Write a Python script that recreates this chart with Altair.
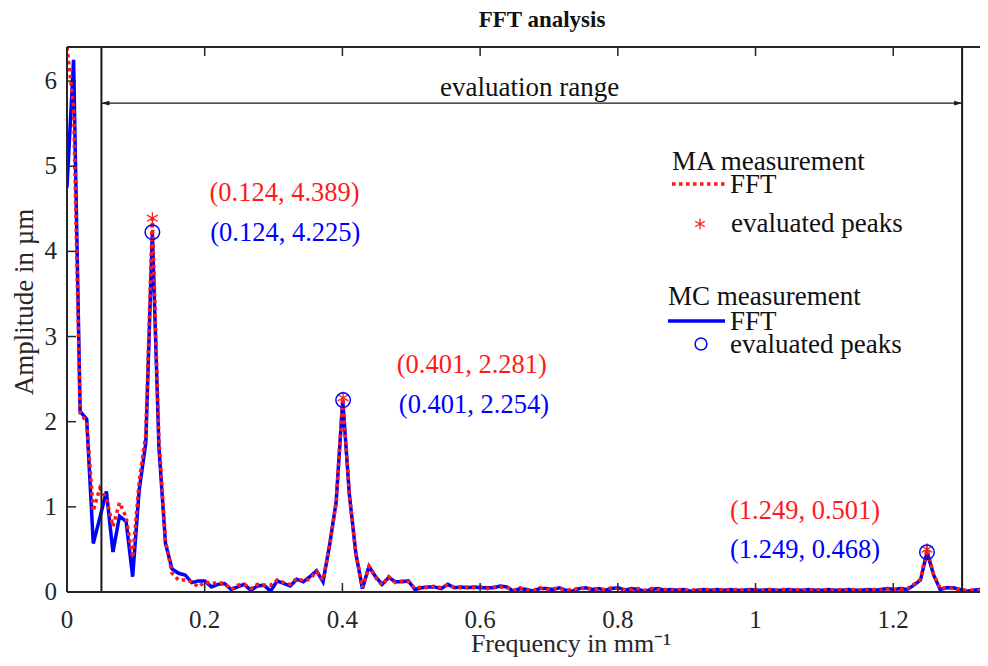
import altair as alt
import pandas as pd

# ---------------- data ----------------
DF = 0.009535  # FFT bin spacing in mm^-1

mc_amp = [4.75, 6.25, 2.12, 2.03, 0.57, 0.87, 1.18, 0.47, 0.89, 0.83,
          0.18, 1.20, 1.75, 4.225, 1.70, 0.57, 0.27, 0.22, 0.20, 0.11,
          0.13, 0.13, 0.06, 0.09, 0.10, 0.03, 0.06, 0.09, 0.02, 0.07,
          0.08, 0.01, 0.13, 0.10, 0.07, 0.15, 0.12, 0.18, 0.25, 0.12,
          0.55, 1.06, 2.254, 1.15, 0.45, 0.04, 0.30, 0.18, 0.09, 0.17,
          0.12, 0.12, 0.13, 0.03, 0.05, 0.06, 0.06, 0.04, 0.09, 0.05,
          0.06, 0.05, 0.06, 0.05, 0.05, 0.05, 0.07, 0.06, 0.01, 0.04,
          0.03, 0.01, 0.04, 0.04, 0.03, 0.05, 0.02, 0.01, 0.04, 0.05,
          0.03, 0.04, 0.02, 0.04, 0.05, 0.02, 0.04, 0.03, 0.01, 0.03,
          0.04, 0.02, 0.03, 0.02, 0.03, 0.01, 0.02, 0.03, 0.02, 0.03,
          0.02, 0.03, 0.02, 0.02, 0.03, 0.02, 0.02, 0.03, 0.02, 0.02,
          0.03, 0.02, 0.02, 0.03, 0.02, 0.02, 0.03, 0.02, 0.02, 0.03,
          0.02, 0.02, 0.03, 0.02, 0.03, 0.04, 0.03, 0.04, 0.03, 0.08,
          0.14, 0.468, 0.20, 0.03, 0.05, 0.05, 0.03, 0.01, 0.02, 0.03,
          0.02]

ma_amp = [6.60, 5.70, 2.10, 2.00, 0.95, 1.22, 1.10, 0.77, 1.05, 0.88,
          0.40, 1.30, 1.85, 4.389, 1.80, 0.60, 0.22, 0.14, 0.14, 0.12,
          0.06, 0.12, 0.10, 0.11, 0.10, 0.03, 0.08, 0.09, 0.04, 0.09,
          0.08, 0.08, 0.14, 0.11, 0.09, 0.16, 0.13, 0.15, 0.24, 0.14,
          0.55, 1.05, 2.281, 1.15, 0.45, 0.05, 0.30, 0.17, 0.08, 0.18,
          0.11, 0.13, 0.12, 0.04, 0.06, 0.05, 0.07, 0.05, 0.08, 0.06,
          0.05, 0.06, 0.05, 0.06, 0.04, 0.06, 0.06, 0.05, 0.02, 0.05,
          0.02, 0.02, 0.05, 0.03, 0.04, 0.04, 0.03, 0.02, 0.05, 0.04,
          0.04, 0.03, 0.03, 0.05, 0.04, 0.03, 0.03, 0.04, 0.02, 0.04,
          0.03, 0.03, 0.02, 0.03, 0.02, 0.02, 0.03, 0.02, 0.03, 0.02,
          0.03, 0.02, 0.03, 0.02, 0.02, 0.03, 0.02, 0.03, 0.02, 0.03,
          0.02, 0.03, 0.02, 0.02, 0.03, 0.02, 0.03, 0.02, 0.03, 0.02,
          0.03, 0.02, 0.02, 0.03, 0.02, 0.04, 0.03, 0.03, 0.04, 0.09,
          0.15, 0.501, 0.21, 0.04, 0.05, 0.04, 0.03, 0.02, 0.02, 0.02,
          0.03]

freq = [round(k * DF, 5) for k in range(len(mc_amp))]

peak_freq = [0.124, 0.401, 1.249]
ma_peak = [4.389, 2.281, 0.501]
mc_peak = [4.225, 2.254, 0.468]
ma_labels = ["(0.124, 4.389)", "(0.401, 2.281)", "(1.249, 0.501)"]
mc_labels = ["(0.124, 4.225)", "(0.401, 2.254)", "(1.249, 0.468)"]
ma_label_x = [0.316, 0.588, 1.072]
ma_label_y = [4.69, 2.66, 0.95]
mc_label_x = [0.317, 0.591, 1.072]
mc_label_y = [4.22, 2.20, 0.49]

eval_range = [0.05, 1.30]
eval_arrow_y = 5.74
eval_text_x = 0.672
eval_text_y = 5.92

x_ticks = [0, 0.2, 0.4, 0.6, 0.8, 1.0, 1.2]
x_tick_labels = ["0", "0.2", "0.4", "0.6", "0.8", "1", "1.2"]
y_ticks = [0, 1, 2, 3, 4, 5, 6]
y_tick_labels = ["0", "1", "2", "3", "4", "5", "6"]

title_text = "FFT analysis"
x_title = "Frequency in mm⁻¹"
y_title = "Amplitude in µm"

# ---------------- style ----------------
W, H = 913, 545
FONT = "Liberation Serif"
RED = "#FF1A1A"
BLUE = "#0000FF"
AX = "#262626"
TXT = "#111111"
LW = 3.5

xs = alt.Scale(domain=[0, 1.326], nice=False, zero=False)
ys = alt.Scale(domain=[0, 6.4], nice=False, clamp=True)

curves = pd.DataFrame({"freq": freq, "MC": mc_amp, "MA": ma_amp})
peaks = pd.DataFrame({"f": peak_freq, "ma": ma_peak, "mc": mc_peak,
                      "ma_lab": ma_labels, "mc_lab": mc_labels,
                      "ma_lx": ma_label_x, "ma_ly": ma_label_y,
                      "mc_lx": mc_label_x, "mc_ly": mc_label_y})
ev = pd.DataFrame({"x": eval_range})
ev_span = pd.DataFrame({"x": [eval_range[0]], "x2": [eval_range[1]], "y": [eval_arrow_y]})
ev_text = pd.DataFrame({"x": [eval_text_x], "y": [eval_text_y], "t": ["evaluation range"]})
xt = pd.DataFrame({"v": x_ticks, "lab": x_tick_labels})
yt = pd.DataFrame({"v": y_ticks, "lab": y_tick_labels})
one = alt.Data(values=[{}])

X = lambda f: alt.X(f, scale=xs, axis=None)
Y = lambda f: alt.Y(f, scale=ys, axis=None)

blue_line = alt.Chart(curves).mark_line(color=BLUE, strokeWidth=LW, clip=True).encode(
    x=X("freq:Q"), y=Y("MC:Q"))
red_line = alt.Chart(curves).mark_line(color=RED, strokeWidth=LW, strokeDash=[3.5, 3.5],
                                       clip=True).encode(x=X("freq:Q"), y=Y("MA:Q"))

ev_lines = alt.Chart(ev).mark_rule(color="#1a1a1a", strokeWidth=2).encode(x=X("x:Q"))
ev_arrow = alt.Chart(ev_span).mark_rule(color="#1a1a1a", strokeWidth=1.2).encode(
    x=X("x:Q"), x2="x2:Q", y=Y("y:Q"))
head_l = alt.Chart(ev_span).mark_point(shape="M 0 0 L 2 -0.6 L 2 0.6 Z", filled=True,
                                       color="#1a1a1a", size=64, opacity=1).encode(
    x=X("x:Q"), y=Y("y:Q"))
head_r = alt.Chart(ev_span).mark_point(shape="M 0 0 L -2 -0.6 L -2 0.6 Z", filled=True,
                                       color="#1a1a1a", size=64, opacity=1).encode(
    x=X("x2:Q"), y=Y("y:Q"))
ev_label = alt.Chart(ev_text).mark_text(font=FONT, fontSize=27, color=TXT,
                                        baseline="middle").encode(
    x=X("x:Q"), y=Y("y:Q"), text="t:N")

ASTER = "M 0 -1 L 0 1 M -0.87 -0.5 L 0.87 0.5 M -0.87 0.5 L 0.87 -0.5"
ma_pts = alt.Chart(peaks).mark_point(shape=ASTER, filled=False, color=RED, size=150,
                                     strokeWidth=1.3, opacity=1).encode(
    x=X("f:Q"), y=Y("ma:Q"))
mc_pts = alt.Chart(peaks).mark_point(shape="circle", filled=False, color=BLUE, size=210,
                                     strokeWidth=1.5, opacity=1).encode(
    x=X("f:Q"), y=Y("mc:Q"))
ma_txt = alt.Chart(peaks).mark_text(font=FONT, fontSize=26.5, color=RED,
                                    baseline="middle").encode(
    x=X("ma_lx:Q"), y=Y("ma_ly:Q"), text="ma_lab:N")
mc_txt = alt.Chart(peaks).mark_text(font=FONT, fontSize=26.5, color=BLUE,
                                    baseline="middle").encode(
    x=X("mc_lx:Q"), y=Y("mc_ly:Q"), text="mc_lab:N")

# ---------------- axes drawn MATLAB-style (inward ticks, box top) ----------------
dom_b = alt.Chart(one).mark_rule(color=AX, strokeWidth=2).encode(
    x=alt.value(0), x2=alt.value(W), y=alt.value(H))
dom_l = alt.Chart(one).mark_rule(color=AX, strokeWidth=2).encode(
    x=alt.value(0), y=alt.value(0), y2=alt.value(H))
dom_t = alt.Chart(one).mark_rule(color=AX, strokeWidth=2).encode(
    x=alt.value(0), x2=alt.value(W), y=alt.value(0))
tick_b = alt.Chart(xt).mark_rule(color=AX, strokeWidth=1.5).encode(
    x=X("v:Q"), y=alt.value(H), y2=alt.value(H - 9))
tick_t = alt.Chart(xt).mark_rule(color=AX, strokeWidth=1.5).encode(
    x=X("v:Q"), y=alt.value(0), y2=alt.value(9))
tick_l = alt.Chart(yt).mark_rule(color=AX, strokeWidth=1.5).encode(
    y=Y("v:Q"), x=alt.value(0), x2=alt.value(9))
lab_x = alt.Chart(xt).mark_text(font=FONT, fontSize=25, color=AX, baseline="middle").encode(
    x=X("v:Q"), y=alt.value(H + 28), text="lab:N")
lab_y = alt.Chart(yt).mark_text(font=FONT, fontSize=25, color=AX, baseline="middle",
                                align="right").encode(
    y=Y("v:Q"), x=alt.value(-10), text="lab:N")
ttl_x = alt.Chart(one).mark_text(font=FONT, fontSize=26, color=AX, baseline="middle").encode(
    x=alt.value(504), y=alt.value(H + 52), text=alt.value(x_title))
ttl_y = alt.Chart(one).mark_text(font=FONT, fontSize=27, color=AX, baseline="middle",
                                 angle=270).encode(
    x=alt.value(-42), y=alt.value(255), text=alt.value(y_title))
ttl = alt.Chart(one).mark_text(font=FONT, fontSize=23, fontWeight="bold", color=TXT,
                               baseline="middle").encode(
    x=alt.value(475), y=alt.value(-27), text=alt.value(title_text))

# ---------------- legend (grouped, MATLAB-like) ----------------
def leg_text(txt, x, y):
    return alt.Chart(one).mark_text(font=FONT, fontSize=27, color=TXT, align="left",
                                    baseline="middle").encode(
        x=alt.value(x), y=alt.value(y), text=alt.value(txt))

leg = [
    leg_text("MA measurement", 605, 115),
    alt.Chart(one).mark_rule(color=RED, strokeWidth=LW, strokeDash=[3.5, 3.5]).encode(
        x=alt.value(605), x2=alt.value(659), y=alt.value(137)),
    leg_text("FFT", 663, 138),
    alt.Chart(one).mark_point(shape=ASTER, filled=False, color=RED, size=120,
                              strokeWidth=1.3, opacity=1).encode(
        x=alt.value(633), y=alt.value(177)),
    leg_text("evaluated peaks", 664, 177),
    leg_text("MC measurement", 601, 250),
    alt.Chart(one).mark_rule(color=BLUE, strokeWidth=LW).encode(
        x=alt.value(601), x2=alt.value(658), y=alt.value(274)),
    leg_text("FFT", 663, 275),
    alt.Chart(one).mark_point(shape="circle", filled=False, color=BLUE, size=140,
                              strokeWidth=1.5, opacity=1).encode(
        x=alt.value(634), y=alt.value(297)),
    leg_text("evaluated peaks", 663, 298),
]

chart = alt.layer(
    blue_line, red_line, ev_lines, ev_arrow, head_l, head_r, ev_label,
    ma_pts, mc_pts, ma_txt, mc_txt,
    dom_b, dom_l, dom_t, tick_b, tick_t, tick_l, lab_x, lab_y, ttl_x, ttl_y, ttl,
    *leg
).properties(
    width=W, height=H,
    autosize=alt.AutoSizeParams(type="none"),
    padding={"left": 59, "top": 39, "right": 0, "bottom": 66},
).configure_view(stroke=None)

chart.save("out.html", embed_options={"renderer": "svg", "actions": False})
